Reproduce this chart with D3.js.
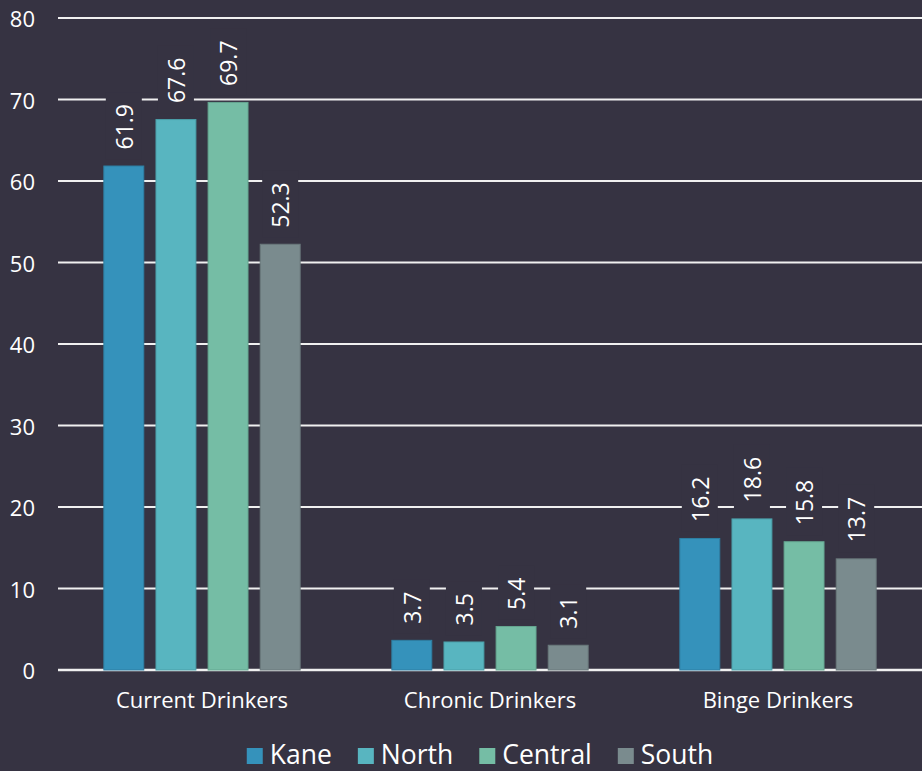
<!DOCTYPE html>
<html>
<head>
<meta charset="utf-8">
<script src="https://cdn.jsdelivr.net/npm/d3@7"></script>
<style>
  html, body { margin: 0; padding: 0; background: #363342; }
  svg { display: block; }
  text { font-family: "Open Sans", "Noto Sans", sans-serif; fill: #ffffff; }
</style>
</head>
<body>
<svg id="chart" width="922" height="771"></svg>
<script>
const categories = ["Current Drinkers", "Chronic Drinkers", "Binge Drinkers"];
const series = ["Kane", "North", "Central", "South"];
const kane = [61.9, 3.7, 16.2];
const north = [67.6, 3.5, 18.6];
const central = [69.7, 5.4, 15.8];
const south = [52.3, 3.1, 13.7];
const yTicks = [0, 10, 20, 30, 40, 50, 60, 70, 80];
const colors = ["#3592bb", "#58b5c0", "#75bda5", "#7a8b8e"];
const strokes = ["#2e7fa3", "#4a9fa9", "#65a690", "#6a797c"];
const bg = "#363342";

(function () {
const valuesBySeries = [kane, north, central, south];
const W = 922, H = 771;
const mLeft = 58, mRight = 922, mTop = 18, mBottom = 670;

const svg = d3.select("#chart");
svg.append("rect").attr("width", W).attr("height", H).attr("fill", bg);

const y = d3.scaleLinear().domain([0, 80]).range([mBottom, mTop]);
const x0 = d3.scaleBand().domain(categories).range([mLeft, mRight]).paddingInner(0).paddingOuter(0);
const x1 = d3.scaleBand().domain(series).range([0, x0.bandwidth()]).paddingInner(0.215).paddingOuter(0.87);

// gridlines
svg.append("g").selectAll("line").data(yTicks).join("line")
  .attr("x1", mLeft).attr("x2", mRight)
  .attr("y1", d => y(d)).attr("y2", d => y(d))
  .attr("stroke", "#f0f0f0")
  .attr("stroke-width", d => d === 0 ? 2.5 : 2);

// y tick labels
svg.append("g").selectAll("text").data(yTicks).join("text")
  .attr("x", 35).attr("y", d => y(d))
  .attr("text-anchor", "end").attr("dominant-baseline", "central")
  .attr("font-size", 22)
  .text(d => d);

// bars
const data = [];
categories.forEach((c, ci) => {
  series.forEach((s, si) => {
    data.push({ cat: c, ser: s, si, value: valuesBySeries[si][ci] });
  });
});

const g = svg.append("g");
g.selectAll("rect.bar").data(data).join("rect")
  .attr("class", "bar")
  .attr("x", d => x0(d.cat) + x1(d.ser) + 0.5)
  .attr("y", d => y(d.value) + 0.5)
  .attr("width", x1.bandwidth() - 1)
  .attr("height", d => y(0) - y(d.value) - 0.5)
  .attr("fill", d => colors[d.si])
  .attr("stroke", d => strokes[d.si])
  .attr("stroke-width", 1);

// value labels
const lg = svg.append("g");
data.forEach(d => {
  const cx = x0(d.cat) + x1(d.ser) + x1.bandwidth() / 2;
  const barTop = y(d.value);
  const baseY = barTop - 16;
  const grp = lg.append("g");
  const bgRect = grp.append("rect").attr("fill", bg);
  const t = grp.append("text")
    .attr("transform", `translate(${cx},${baseY}) rotate(-90)`)
    .attr("text-anchor", "start")
    .attr("dominant-baseline", "central")
    .attr("font-size", 23)
    .text(d.value.toFixed(1));
  const len = t.node().getComputedTextLength();
  const textTop = baseY - len;
  bgRect.attr("x", cx - 18).attr("width", 36)
    .attr("y", textTop - 12).attr("height", (barTop - 6) - (textTop - 12));
});

// category labels
svg.append("g").selectAll("text").data(categories).join("text")
  .attr("x", d => x0(d) + x0.bandwidth() / 2)
  .attr("y", 708)
  .attr("text-anchor", "middle")
  .attr("font-size", 22)
  .text(d => d);

// legend
const leg = svg.append("g");
let cursor = 0;
series.forEach((s, i) => {
  const it = leg.append("g");
  it.append("rect").attr("x", cursor).attr("y", 748).attr("width", 16).attr("height", 16).attr("fill", colors[i]);
  const tx = it.append("text").attr("x", cursor + 23).attr("y", 764).attr("font-size", 26.5).text(s);
  const w = tx.node().getComputedTextLength();
  cursor += 23 + w + 26;
});
const totalW = cursor - 26;
leg.attr("transform", `translate(${480 - totalW / 2},0)`);
})();
</script>
</body>
</html>
